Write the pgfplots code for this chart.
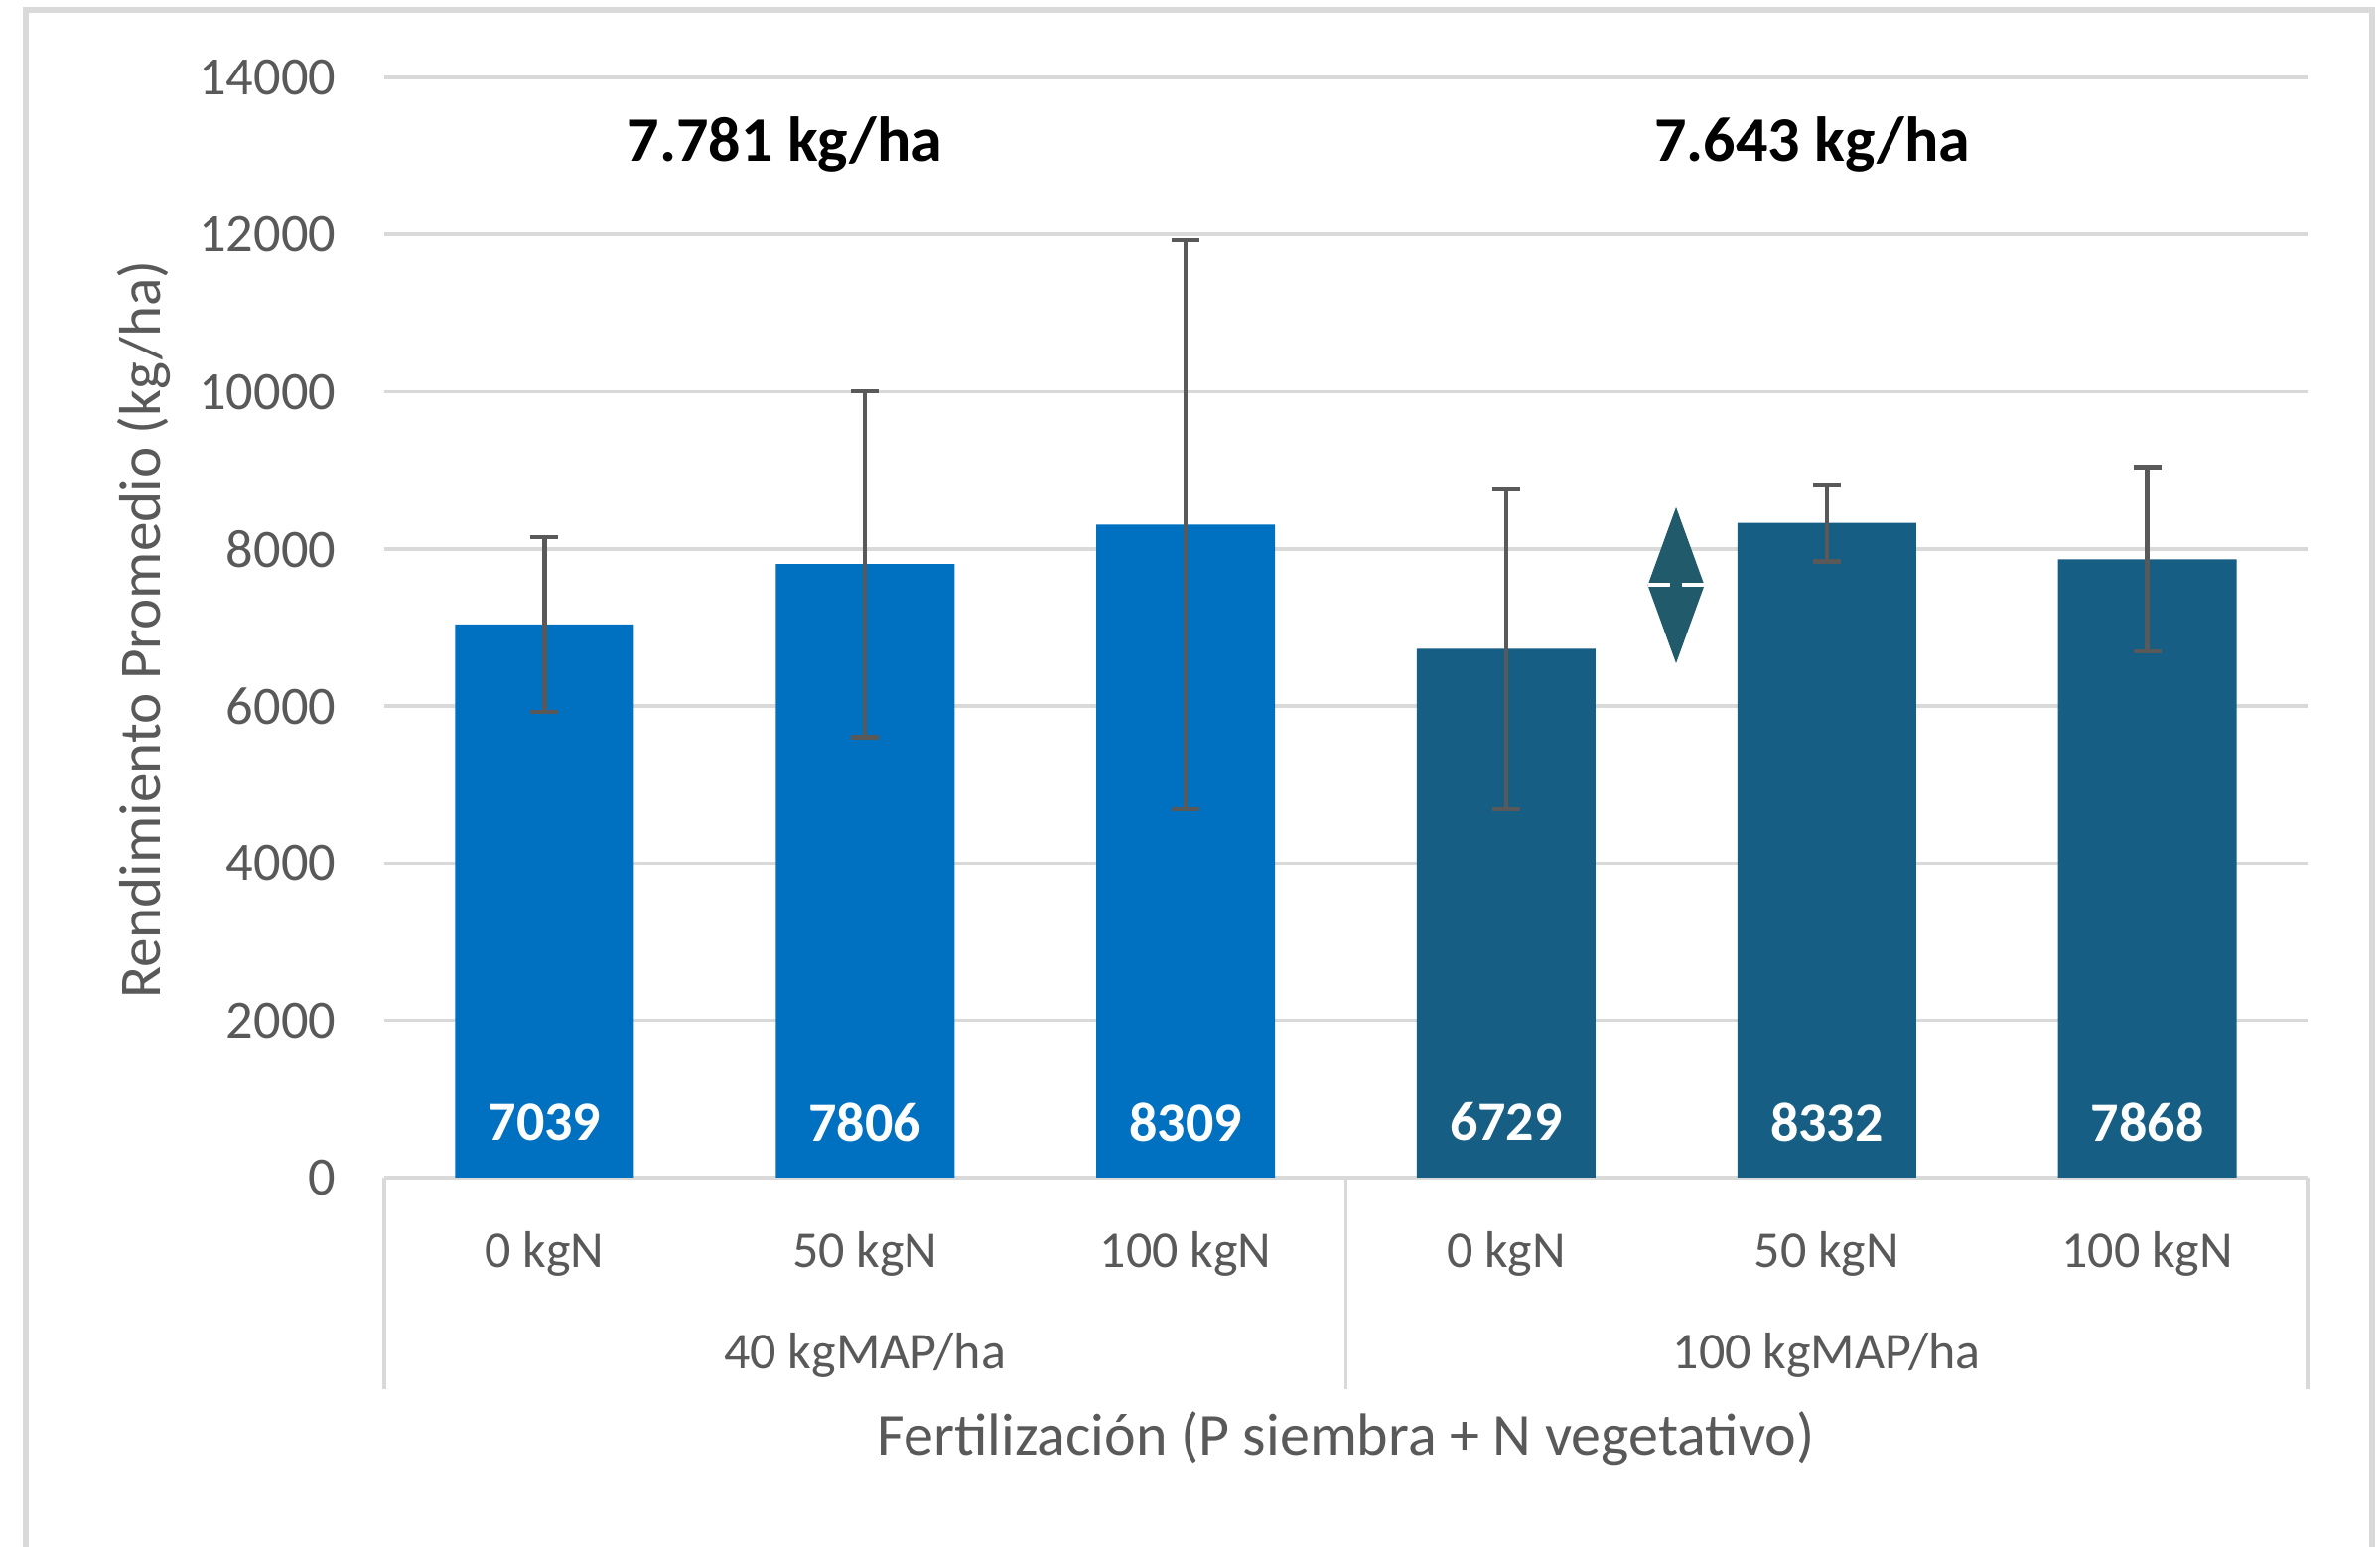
\documentclass[border=0pt]{standalone}
\usepackage{pgfplots}
\pgfplotsset{compat=1.18}
\usepackage{fontspec}
\setmainfont{Carlito}
\definecolor{barA}{HTML}{0070C0}
\definecolor{barB}{HTML}{175E84}
\definecolor{diamc}{HTML}{215B6B}
\definecolor{gridc}{HTML}{D9D9D9}
\definecolor{textc}{HTML}{595959}
\definecolor{errc}{HTML}{595959}
\tikzset{
  lab/.style={font=\bfseries\fontsize{14}{16}\selectfont, text=white},
  cat/.style={font=\fontsize{13}{15}\selectfont, text=textc},
}
\begin{document}
\begin{tikzpicture}
\path[use as bounding box] (0,0) rectangle (599.25pt,389.5pt);
\draw[gridc, line width=1.4pt] (6.5pt,0) -- (6.5pt,387pt) -- (597.25pt,387pt) -- (597.25pt,0);
\begin{axis}[
  at={(96.75pt,93pt)}, anchor=south west, scale only axis,
  width=484.25pt, height=277pt,
  xmin=-0.5, xmax=5.5, ymin=0, ymax=14000,
  xtick=\empty,
  ytick={0,2000,...,14000},
  axis x line*=bottom, axis y line*=left,
  y axis line style={draw=none},
  x axis line style={gridc, line width=0.9pt},
  major tick length=0pt,
  ymajorgrids, grid style={gridc, line width=0.9pt},
  scaled y ticks=false,
  /pgf/number format/assume math mode=true,
  /pgf/number format/1000 sep={},
  yticklabel style={font=\fontsize{13.6}{16}\selectfont, text=textc, anchor=east, inner sep=0pt, xshift=-12pt},
  clip=false,
  ]
\addplot[ybar, bar width=45pt, fill=barA, draw=none,
  error bars/.cd, y dir=both, y explicit,
  error bar style={errc, line width=1.1pt},
  error mark options={errc, line width=1.1pt, mark size=3.5pt, rotate=90}]
  coordinates {(0,7039) +- (0,1110) (1,7806) +- (0,2200) (2,8309) +- (0,3620)};
\addplot[ybar, bar width=45pt, fill=barB, draw=none,
  error bars/.cd, y dir=both, y explicit,
  error bar style={errc, line width=1.1pt},
  error mark options={errc, line width=1.1pt, mark size=3.5pt, rotate=90}]
  coordinates {(3,6729) +- (0,2040) (4,8332) +- (0,490) (5,7868) +- (0,1170)};
% diamond marker
\addplot[fill=diamc, draw=none] coordinates {(3.4417,7537) (3.53,8529) (3.6183,7537) (3.53,6545)} -- cycle;
\addplot[white, line width=1pt] coordinates {(3.4417,7537) (3.5114,7537)};
\addplot[white, line width=1pt] coordinates {(3.5486,7537) (3.6183,7537)};
% data labels
\node[lab] at (axis cs:0,708) {7039};
\node[lab] at (axis cs:1,708) {7806};
\node[lab] at (axis cs:2,708) {8309};
\node[lab] at (axis cs:3,708) {6729};
\node[lab] at (axis cs:4,708) {8332};
\node[lab] at (axis cs:5,708) {7868};
% group means
\node[anchor=base, font=\bfseries\fontsize{16}{19}\selectfont] at (axis cs:0.75,12926) {7.781 kg/ha};
\node[anchor=base, font=\bfseries\fontsize{16}{19}\selectfont] at (axis cs:3.955,12926) {7.643 kg/ha};
% category axis
\draw[gridc, line width=0.9pt] (axis cs:-0.5,0) -- (axis cs:-0.5,-2691);
\draw[gridc, line width=0.9pt] (axis cs:2.5,0) -- (axis cs:2.5,-2691);
\draw[gridc, line width=0.9pt] (axis cs:5.5,0) -- (axis cs:5.5,-2691);
\node[cat] at (axis cs:0,-972) {0 kgN};
\node[cat] at (axis cs:1,-972) {50 kgN};
\node[cat] at (axis cs:2,-972) {100 kgN};
\node[cat] at (axis cs:3,-972) {0 kgN};
\node[cat] at (axis cs:4,-972) {50 kgN};
\node[cat] at (axis cs:5,-972) {100 kgN};
\node[cat] at (axis cs:1,-2260) {40 kgMAP/ha};
\node[cat] at (axis cs:4,-2260) {100 kgMAP/ha};
\node[font=\fontsize{15}{18}\selectfont, text=textc] at (axis cs:2.5,-3323) {Fertilización (P siembra + N vegetativo)};
\node[rotate=90, font=\fontsize{14.8}{18}\selectfont, text=textc] at ([xshift=-60.5pt]axis cs:-0.5,6975) {Rendimiento Promedio (kg/ha)};
\end{axis}
\end{tikzpicture}
\end{document}
